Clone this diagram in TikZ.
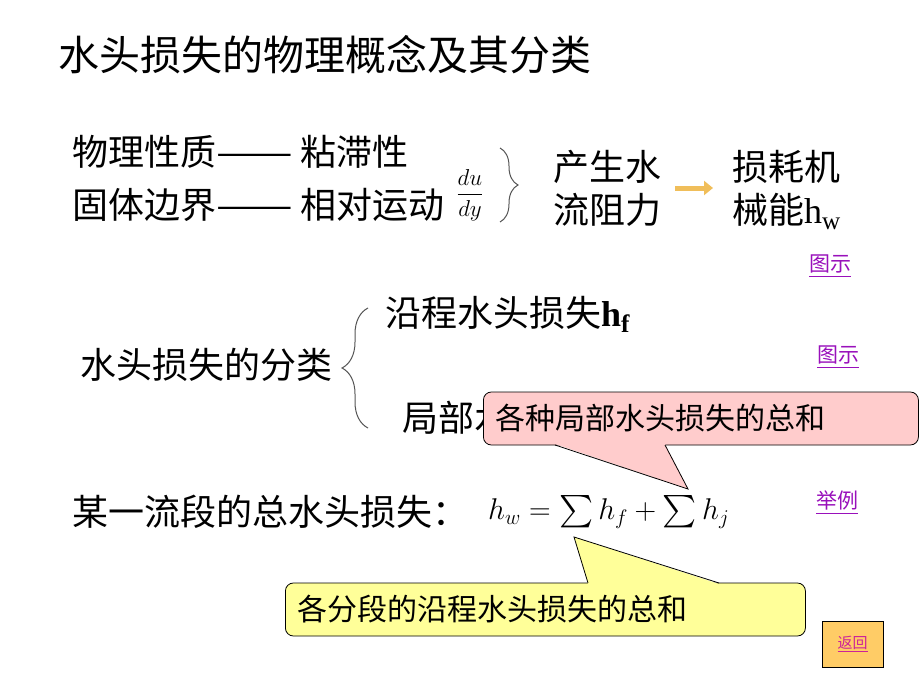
\RequirePackage{fix-cm}
\documentclass[tikz,border=0pt]{standalone}
\usepackage{exscale}
\usepackage{graphicx}
\usepackage{fontspec}
\setmainfont{Liberation Serif}
\newfontfamily\cjk{Noto Sans CJK SC}
\usepackage{xcolor}
\usepackage{tikz}
\usetikzlibrary{positioning,decorations.pathreplacing,arrows.meta}
\definecolor{linkpurple}{HTML}{9910BB}
\definecolor{backpink}{HTML}{CC2299}
\definecolor{calloutpink}{HTML}{FFCCCC}
\definecolor{calloutyellow}{HTML}{FFFF99}
\definecolor{buttonorange}{HTML}{FFCC66}
\definecolor{arroworange}{HTML}{F0BE5A}
\definecolor{bracegray}{HTML}{555555}
\tikzstyle{txt}=[inner sep=0, anchor=west, text height=31.7pt, text depth=4.3pt, font=\cjk\fontsize{36}{40}\selectfont]
\tikzstyle{link}=[inner sep=0, text=linkpurple, font=\cjk\fontsize{21}{24}\selectfont]
\tikzstyle{callout}=[draw=black, line width=0.8pt, rounded corners=8pt, anchor=west, inner xsep=12pt, minimum height=53pt, align=left, font=\cjk\fontsize{30}{34}\selectfont]
\tikzstyle{bracestyle}=[decorate, draw=bracegray, line width=1pt]
\tikzstyle{button}=[draw=black, line width=0.8pt, fill=buttonorange, minimum width=61pt, minimum height=46pt, text=backpink, font=\cjk\fontsize{15}{18}\selectfont]
\tikzset{flowarrow/.style={draw=arroworange, line width=5pt, -{Triangle[length=9pt,width=14pt]}}}
\newcommand{\longdash}{\scalebox{1.27}[1]{——}}
\newcommand{\bigsum}{\mathop{\vcenter{\hbox{\scalebox{1.3}{$\sum$}}}}}

\begin{document}
\begin{tikzpicture}[x=1pt,y=-1pt]
        \useasboundingbox[fill=white] (0,0) rectangle (920,690);

        \node(title)[txt, text height=36pt, text depth=5pt, font=\cjk\fontsize{41}{45}\selectfont] at (58,55) {水头损失的物理概念及其分类};

        % cause of the losses
        \node(viscous)[txt] at (72,152) {物理性质\longdash{} 粘滞性};
        \node(wall)[txt] at (72,205) {固体边界\longdash{} 相对运动};
        \node(grad)[inner sep=0, font=\fontsize{23}{26}\selectfont] at (470,195) {$\displaystyle\frac{du}{dy}$};
        \draw[bracestyle, decoration={brace, amplitude=18pt}] (500,148) -- (500,222);

        \node(resist1)[txt] at (553,167) {产生水};
        \node(resist2)[txt] at (553,210) {流阻力};
        \node(energy1)[txt] at (732,167) {损耗机};
        \node(energy2)[txt] at (732,210) {械能{\rmfamily h\textsubscript{w}}};
        \coordinate (arrowtail) at (675,188);
        \coordinate (arrowhead) at (713,188);
        \draw[flowarrow] (arrowtail) -- (arrowhead);

        \node(fig1)[link] at (830,266) {\underline{图示}};
        \node(fig2)[link] at (838,357) {\underline{图示}};

        % classification
        \node(classes)[txt] at (80,365) {水头损失的分类};
        \draw[bracestyle, decoration={brace, amplitude=26pt}] (368,428) -- (368,308);
        \node(friction)[txt] at (385,313) {沿程水头损失{\rmfamily\bfseries h\textsubscript{f}}};
        \node(local)[txt] at (402,418) {局部水头损失{\rmfamily\bfseries h\textsubscript{j}}};

        \node(sumlocal)[callout, fill=calloutpink, text width=411pt] at (483,418.5) {各种局部水头损失的总和};
        \coordinate (pinktip) at (688,489);
        \fill[calloutpink] (555,444) -- (pinktip) -- (665,444) -- cycle;
        \draw[line width=0.8pt] (555,445) -- (pinktip) -- (665,445);

        % total head loss
        \node(total)[txt] at (72,512) {某一流段的总水头损失：};
        \node(formula)[inner sep=0, anchor=west, font=\fontsize{30}{34}\selectfont] at (488,512) {$h_w=\bigsum h_f+\bigsum h_j$};
        \node(example)[link] at (837,503) {\underline{举例}};

        \node(sumfriction)[callout, fill=calloutyellow, text width=496pt] at (285,609.5) {各分段的沿程水头损失的总和};
        \coordinate (yellowtip) at (574,537);
        \fill[calloutyellow] (588,584) -- (yellowtip) -- (719,584) -- cycle;
        \draw[line width=0.8pt] (588,583) -- (yellowtip) -- (719,583);

        \node(back)[button] at (852.5,644) {\underline{返回}};
    \end{tikzpicture}
\end{document}
